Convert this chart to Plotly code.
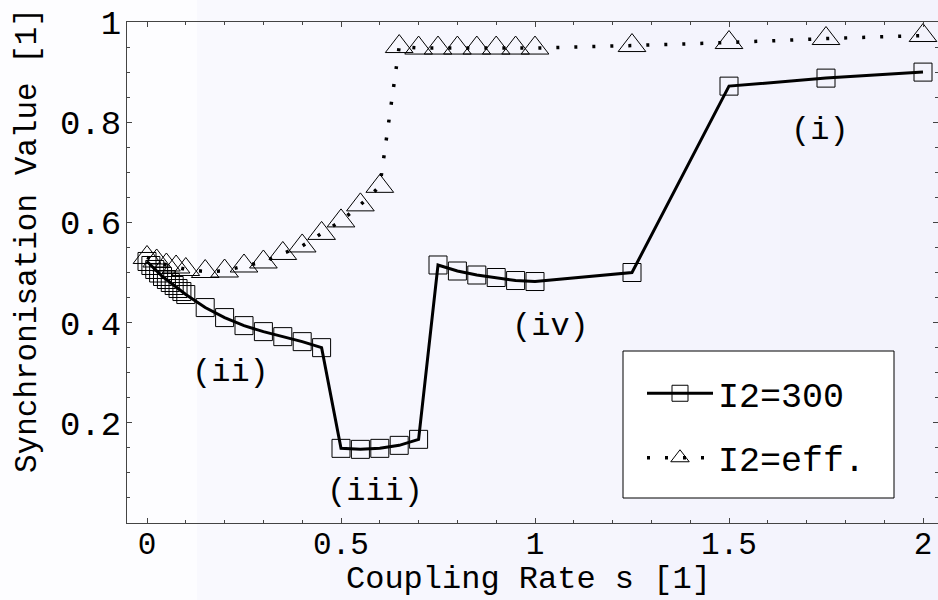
import plotly.graph_objects as go

# ---- data ----
s_300 = [0, 0.01, 0.02, 0.03, 0.04, 0.05, 0.06, 0.07, 0.08, 0.09, 0.1,
         0.15, 0.2, 0.25, 0.3, 0.35, 0.4, 0.45,
         0.5, 0.55, 0.6, 0.65, 0.7,
         0.75, 0.8, 0.85, 0.9, 0.95, 1.0,
         1.25, 1.5, 1.75, 2.0]
sync_300 = [0.522, 0.514, 0.506, 0.499, 0.492, 0.486, 0.480, 0.474, 0.468, 0.462, 0.456,
            0.430, 0.410, 0.394, 0.382, 0.372, 0.362, 0.350,
            0.149, 0.147, 0.149, 0.155, 0.167,
            0.515, 0.503, 0.495, 0.490, 0.484, 0.482,
            0.500, 0.872, 0.888, 0.900]

s_eff = [0, 0.025, 0.05, 0.075, 0.1,
         0.15, 0.2, 0.25, 0.3, 0.35, 0.4, 0.45, 0.5, 0.55, 0.6,
         0.65, 0.7, 0.75, 0.8, 0.85, 0.9, 0.95, 1.0,
         1.25, 1.5, 1.75, 2.0]
sync_eff = [0.530, 0.523, 0.515, 0.511, 0.506,
            0.502, 0.503, 0.513, 0.521, 0.538, 0.553, 0.578, 0.603, 0.635, 0.672,
            0.951, 0.948, 0.948, 0.948, 0.948, 0.948, 0.948, 0.948,
            0.953, 0.959, 0.967, 0.973]

series_names = ["I2=300", "I2=eff."]

x_tickvals = [0, 0.5, 1, 1.5, 2]
x_ticktext = ["0", "0.5", "1", "1.5", "2"]
y_tickvals = [0.2, 0.4, 0.6, 0.8, 1.0]
y_ticktext = ["0.2", "0.4", "0.6", "0.8", "1"]

region_labels = ["(i)", "(ii)", "(iii)", "(iv)"]
region_x = [1.735, 0.214, 0.588, 1.039]
region_y = [0.784, 0.300, 0.062, 0.392]

x_title = "Coupling Rate s [1]"
y_title = "Synchronisation Value [1]"

FONT = "Liberation Mono"

fig = go.Figure()

fig.add_trace(go.Scatter(
    x=s_300, y=sync_300, name=series_names[0], mode="lines+markers",
    line=dict(color="black", width=3),
    marker=dict(symbol="square-open", size=18, color="black", line=dict(width=1)),
    legendgroup="a",
))
fig.add_trace(go.Scatter(
    x=s_eff, y=sync_eff, name=series_names[1], mode="lines+markers",
    line=dict(color="black", width=3.5, dash="3px,15px"),
    marker=dict(symbol="triangle-up-open", size=24, color="black", line=dict(width=1)),
    legendgroup="b",
))

for t, xx, yy in zip(region_labels, region_x, region_y):
    fig.add_annotation(x=xx, y=yy, text=t, showarrow=False,
                       font=dict(family=FONT, size=32, color="black"),
                       xanchor="center", yanchor="middle")

W, H = 938, 600
ml, mr, mt, mb = 127, 0, 22, 77
pw, ph = W - ml - mr, H - mt - mb


def px_x(p):
    return (p - ml) / pw


def px_y(p):
    return (H - mb - p) / ph


# axis titles as text annotations
fig.add_annotation(xref="paper", yref="paper",
                   x=px_x(27), y=px_y(241),
                   text=y_title, textangle=-90, showarrow=False,
                   font=dict(family=FONT, size=31, color="black"),
                   xanchor="center", yanchor="middle")
fig.add_annotation(xref="paper", yref="paper",
                   x=px_x(528), y=px_y(600),
                   text=x_title, showarrow=False,
                   font=dict(family=FONT, size=32, color="black"),
                   xanchor="center", yanchor="bottom")

# soft background gradient (white at left -> pale lavender at right)
bands = [(0, 197, "#fdfdff"), (197, 330, "#f9f9fe"), (330, 480, "#f7f7fe"),
         (480, 630, "#f6f6fd"), (630, 780, "#f4f4fd"), (780, 938, "#f3f3fc")]
for a, b, c in bands:
    fig.add_shape(type="rect", xref="paper", yref="paper", layer="below",
                  x0=px_x(a), x1=px_x(b), y0=px_y(H), y1=px_y(0),
                  fillcolor=c, line=dict(width=0))

# legend frame
fig.add_shape(type="rect", xref="paper", yref="paper", layer="above",
              x0=px_x(623), x1=px_x(894), y0=px_y(498), y1=px_y(351),
              fillcolor="white", line=dict(color="black", width=1))

xr0 = -20 / 388
xr1 = 2 + 15 / 388

fig.update_layout(
    width=W, height=H,
    margin=dict(l=ml, r=mr, t=mt, b=mb, autoexpand=False),
    paper_bgcolor="white",
    plot_bgcolor="rgba(0,0,0,0)",
    font=dict(family=FONT, color="black"),
    showlegend=True,
    legend=dict(
        x=px_x(642), y=px_y(364), xanchor="left", yanchor="top",
        bgcolor="rgba(0,0,0,0)", borderwidth=0,
        font=dict(family=FONT, size=35, color="black"),
        itemwidth=66, tracegroupgap=16, traceorder="grouped",
    ),
    xaxis=dict(
        range=[xr0, xr1], showgrid=False, zeroline=False, automargin=False,
        showline=True, linecolor="#444", linewidth=1, mirror="ticks",
        ticks="inside", ticklen=5, tickcolor="#444",
        tickvals=x_tickvals, ticktext=x_ticktext,
        tickfont=dict(family=FONT, size=31, color="black"),
        ticklabelstandoff=-7,
        minor=dict(dtick=0.1, tick0=0, ticks="inside", ticklen=3, tickcolor="#444"),
    ),
    yaxis=dict(
        range=[0, 1], showgrid=False, zeroline=False, automargin=False,
        showline=True, linecolor="#444", linewidth=1, mirror="ticks",
        ticks="inside", ticklen=5, tickcolor="#444",
        tickvals=y_tickvals, ticktext=y_ticktext,
        tickfont=dict(family=FONT, size=34, color="black"),
        ticklabelstandoff=-2,
        minor=dict(dtick=0.05, tick0=0, ticks="inside", ticklen=3, tickcolor="#444"),
    ),
)

fig.write_html("out.html")
